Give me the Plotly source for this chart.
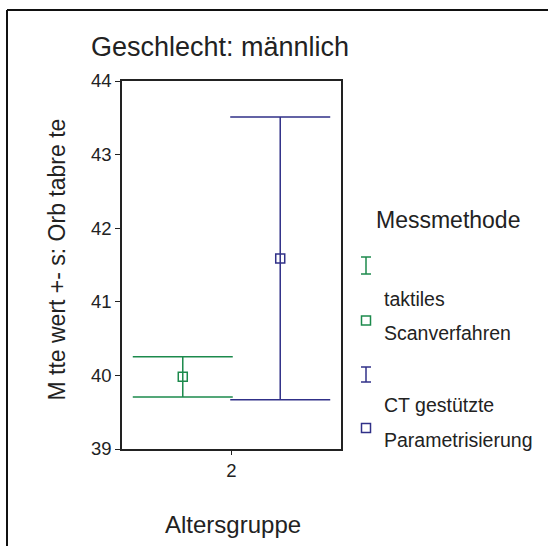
import plotly.graph_objects as go

# ---- data ----
age_group = ["2"]
methods = ["taktiles Scanverfahren", "CT gestützte Parametrisierung"]
mean_values = [39.98, 41.59]
sd_values = [0.275, 1.92]
colors = ["#1c8a4c", "#303088"]
y_ticks = [39, 40, 41, 42, 43, 44]

W, H = 548, 546
ML, MR, MT, MB = 122, 207, 81, 97
PW, PH = W - ML - MR, H - MT - MB
FONT = "Liberation Sans, Arial, sans-serif"
TXT = "#222222"


def px(x):
    return (x - ML) / PW


def py(y):
    return (H - MB - y) / PH


fig = go.Figure()
for name, m, s, c in zip(methods, mean_values, sd_values, colors):
    fig.add_trace(go.Scatter(
        x=age_group, y=[m], name=name, mode="markers",
        marker=dict(symbol="square-open", size=9, color=c, line=dict(width=1.5, color=c)),
        error_y=dict(type="data", array=[s], visible=True, color=c, thickness=1.5, width=50),
        showlegend=False,
    ))

annotations = []


def text(t, x, baseline, fs, xanchor="left", angle=0):
    annotations.append(dict(
        text=t, xref="paper", yref="paper", x=px(x), y=py(baseline - 0.33 * fs),
        xanchor=xanchor, yanchor="middle", showarrow=False, textangle=angle,
        font=dict(family=FONT, size=fs, color=TXT)))


text("Geschlecht: männlich", 89, 56, 27)
text("Altersgruppe", 232.5, 532, 24, xanchor="center")
text("Messmethode", 374, 228, 23)
text("taktiles", 382, 305, 19.5)
text("Scanverfahren", 382, 339, 19.5)
text("CT gestützte", 382, 411.7, 19.5)
text("Parametrisierung", 382, 446, 19.5)
annotations.append(dict(
    text="M tte wert +- s: Orb tabre te", xref="paper", yref="paper",
    x=px(56), y=py(259.5), xanchor="center", yanchor="middle", showarrow=False,
    textangle=-90, font=dict(family=FONT, size=23, color=TXT)))

shapes = []


def line(x0, y0, x1, y1, color, w=1.5):
    shapes.append(dict(type="line", xref="paper", yref="paper",
                       x0=px(x0), y0=py(y0), x1=px(x1), y1=py(y1),
                       line=dict(color=color, width=w)))


# legend glyphs
for c, top, bot, sq in [(colors[0], 257, 274, 320.5), (colors[1], 367, 382, 428)]:
    line(366, top, 366, bot, c)
    line(361, top, 371, top, c)
    line(361, bot, 371, bot, c)
    shapes.append(dict(type="rect", xref="paper", yref="paper",
                       x0=px(361.5), x1=px(370.5), y0=py(sq + 4.5), y1=py(sq - 4.5),
                       line=dict(color=c, width=1.5)))

# outer frame (top and left edges visible)
line(7, 10, 560, 10, "#111111", 2)
line(7, 10, 7, 560, "#111111", 2)

fig.update_layout(
    width=W, height=H,
    margin=dict(l=ML, r=MR, t=MT, b=MB),
    paper_bgcolor="white", plot_bgcolor="white",
    scattermode="group", scattergap=0.11,
    font=dict(family=FONT, size=18, color=TXT),
    annotations=annotations, shapes=shapes,
    xaxis=dict(type="category", range=[-0.5, 0.5], showgrid=False, zeroline=False,
               showline=True, mirror=True, linecolor="#222222", linewidth=1.5,
               ticks="outside", ticklen=4, tickcolor="#222222",
               tickfont=dict(size=18.5, family=FONT, color=TXT)),
    yaxis=dict(range=[39, 44], tickvals=y_ticks, showgrid=False, zeroline=False,
               showline=True, mirror=True, linecolor="#222222", linewidth=1.5,
               ticks="outside", ticklen=5, tickcolor="#222222",
               tickfont=dict(size=18.5, family=FONT, color=TXT)),
)

fig.write_html("out.html")
